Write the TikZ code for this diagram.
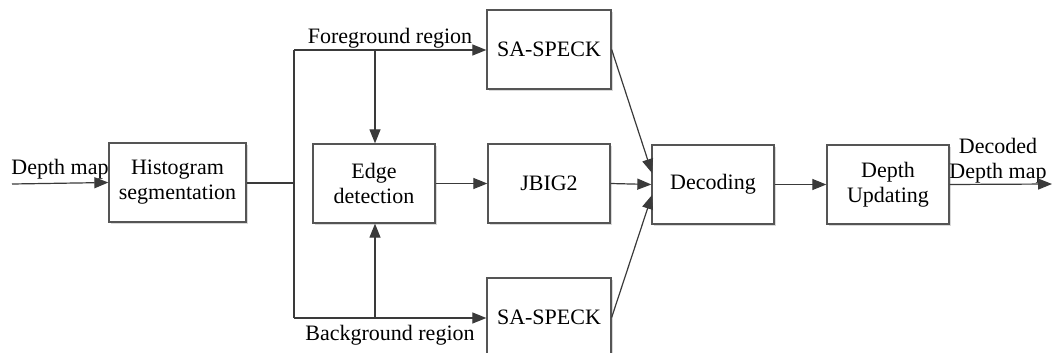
\documentclass[tikz,border=0pt]{standalone}
\usepackage{fontspec}
\setmainfont{Liberation Serif}
\usetikzlibrary{arrows.meta,shadows}
\definecolor{linec}{HTML}{3A3A3A}
\definecolor{boxc}{HTML}{555555}
\begin{document}
\begin{tikzpicture}[x=1pt,y=-1pt,
  font=\rmfamily\fontsize{22}{25}\selectfont,
  box/.style={draw=boxc, fill=white, line width=1.3pt, minimum width=122pt, minimum height=79pt, inner sep=0pt, align=center,
    drop shadow={shadow xshift=2pt, shadow yshift=-2pt, fill=black!15, opacity=1}},
  conn/.style={draw=linec, line width=1.2pt},
  arr/.style={conn, -{Triangle[length=14pt,width=11pt]}},
  lbl/.style={inner sep=0pt, align=center}]
\useasboundingbox (0,0) rectangle (1052,353);
\begin{scope}
\clip (0,0) rectangle (1052,353);
\node[box, minimum width=137pt] (hist) at (177.5,182.5) {Histogram\\segmentation};
\node[box] (edge) at (374,183.5) {Edge\\detection};
\node[box] (jbig) at (549,183.5) {JBIG2};
\node[box, minimum width=124pt] (sa1) at (549,49.5) {SA-SPECK};
\node[box, minimum width=124pt] (sa2) at (549,317.5) {SA-SPECK};
\node[box] (dec) at (713,184.5) {Decoding};
\node[box] (upd) at (888,184.5) {Depth\\Updating};
\end{scope}
\coordinate (in) at (12,184);
\coordinate (out) at (1052,184);
\coordinate (jmid) at (294,183);
\coordinate (jtop) at (294,50);
\coordinate (jbot) at (294,318);
\coordinate (etop) at (375,50);
\coordinate (ebot) at (375,318);
\coordinate (dtop) at (652,173);
\coordinate (dbot) at (652,195);
\node[lbl] (lin) at (60,169) {Depth map};
\node[lbl] (lfg) at (390,38) {Foreground region};
\node[lbl] (lbg) at (390,335) {Background region};
\node[lbl] (lout) at (998,161) {Decoded\\Depth map};
\draw[arr] (in) -- (hist.west);
\draw[conn] (hist.east |- jmid) -- (jmid);
\draw[conn] (jtop) -- (jbot);
\draw[arr] (jtop) -- (sa1.west |- jtop);
\draw[arr] (jbot) -- (sa2.west |- jbot);
\draw[arr] (etop) -- (edge.north -| etop);
\draw[arr] (ebot) -- (edge.south -| ebot);
\draw[arr] (edge.east) -- (jbig.west);
\draw[arr] (sa1.east) -- (dtop);
\draw[arr] (jbig.east) -- (dec.west);
\draw[arr] (sa2.east) -- (dbot);
\draw[arr] (dec.east) -- (upd.west);
\draw[arr] (upd.east) -- (out);
\end{tikzpicture}
\end{document}
